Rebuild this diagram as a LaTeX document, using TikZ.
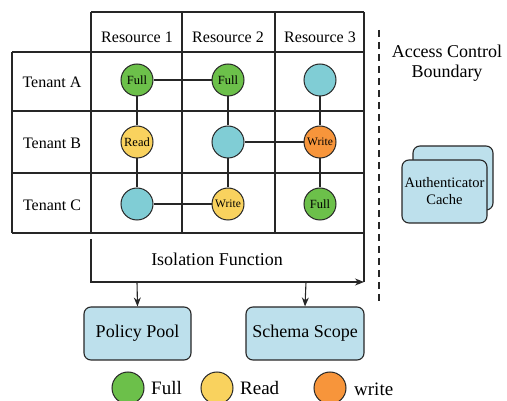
\documentclass[tikz,border=0pt]{standalone}
\usepackage{fontspec}
\setmainfont{Liberation Serif}
\usetikzlibrary{arrows.meta}
\definecolor{cfull}{HTML}{6CC04A}
\definecolor{cread}{HTML}{F9D25E}
\definecolor{cwrite}{HTML}{F7953B}
\definecolor{ccyan}{HTML}{80CDD5}
\definecolor{cbox}{HTML}{BDE0EC}
\tikzset{
  grid/.style={line width=1.2pt, black!85},
  dot/.style={circle, draw=black!85, line width=1pt, minimum size=32pt, inner sep=0pt, font=\fontsize{12.5}{13}\selectfont},
  link/.style={line width=1.1pt, black!85},
  bluebox/.style={draw=black!85, line width=1.1pt, fill=cbox, rounded corners=7pt, inner sep=0pt, font=\fontsize{18}{20}\selectfont},
  hdr/.style={font=\fontsize{16}{18}\selectfont, inner sep=0pt},
  legtext/.style={font=\fontsize{19}{21}\selectfont, anchor=west, inner sep=0pt},
  arr/.style={line width=1.1pt, black!85, -{Stealth[length=9pt,width=7pt]}}
}
\begin{document}
\begin{tikzpicture}[x=1pt,y=-1pt]
\useasboundingbox (0,0) rectangle (507,401);
% table grid
\draw[grid] (91,12) -- (364,12);
\draw[grid] (12,52) -- (364,52);
\draw[grid] (12,111) -- (364,111);
\draw[grid] (12,173) -- (364,173);
\draw[grid] (12,233) -- (364,233);
\draw[grid] (12,52) -- (12,233);
\draw[grid] (91,12) -- (91,233);
\draw[grid] (182,12) -- (182,233);
\draw[grid] (275,12) -- (275,233);
\draw[grid] (364,12) -- (364,282);
% headers
\node[hdr] (h1) at (137,37) {Resource 1};
\node[hdr] (h2) at (228,37) {Resource 2};
\node[hdr] (h3) at (320,37) {Resource 3};
\node[hdr] (ta) at (52,82) {Tenant A};
\node[hdr] (tb) at (52,143) {Tenant B};
\node[hdr] (tc) at (52,205) {Tenant C};
% circles
\node[dot, fill=cfull] (a1) at (137,80) {Full};
\node[dot, fill=cfull] (a2) at (228,80) {Full};
\node[dot, fill=ccyan] (a3) at (320,80) {};
\node[dot, fill=cread] (b1) at (137,142) {Read};
\node[dot, fill=ccyan] (b2) at (228,142) {};
\node[dot, fill=cwrite, font=\fontsize{11.5}{12}\selectfont] (b3) at (320,142) {Write};
\node[dot, fill=ccyan] (c1) at (137,204) {};
\node[dot, fill=cread, font=\fontsize{11.5}{12}\selectfont] (c2) at (228,204) {Write};
\node[dot, fill=cfull] (c3) at (320,204) {Full};
\draw[link] (a1) -- (a2);
\draw[link] (a1) -- (b1);
\draw[link] (b1) -- (c1);
\draw[link] (a2) -- (b2);
\draw[link] (b2) -- (c2);
\draw[link] (b2) -- (b3);
\draw[link] (c1) -- (c2);
\draw[link] (a3) -- (b3);
\draw[link] (b3) -- (c3);
% isolation function
\coordinate (isoStart) at (91,239);
\coordinate (isoCorner) at (91,282);
\coordinate (isoEnd) at (364,282);
\coordinate (dropA) at (137,282);
\coordinate (dropB) at (306,282);
\draw[arr] (isoStart) -- (isoCorner) -- (isoEnd);
\node[font=\fontsize{18}{20}\selectfont, inner sep=0pt] (iso) at (217,259) {Isolation Function};
\node[bluebox, minimum width=107pt, minimum height=53pt] (pp) at (137.5,333.5) {Policy Pool};
\node[bluebox, minimum width=118pt, minimum height=53pt] (ss) at (305,333.5) {Schema Scope};
\draw[arr] (dropA) -- (pp.north);
\draw[arr] (dropB) -- (ss.north);
% boundary
\coordinate (dashTop) at (379,30);
\coordinate (dashBot) at (379,302);
\draw[line width=1.2pt, black!85, dash pattern=on 7pt off 5pt] (dashTop) -- (dashBot);
\node[font=\fontsize{18}{20}\selectfont, align=center, inner sep=0pt] (acb) at (447,63) {Access Control\\Boundary};
% authenticator cache
\node[bluebox, minimum width=80pt, minimum height=64pt] (acback) at (453,178) {};
\node[bluebox, minimum width=85pt, minimum height=63pt, align=center, font=\fontsize{14.5}{17}\selectfont] (ac) at (444.5,191.5) {Authenticator\\Cache};
% legend
\node[dot, fill=cfull] (lf) at (128,388) {};
\node[legtext] (lft) at (151,388) {Full};
\node[dot, fill=cread] (lr) at (217,388) {};
\node[legtext] (lrt) at (240,388) {Read};
\node[dot, fill=cwrite] (lw) at (330,388) {};
\node[legtext] (lwt) at (354,389) {write};
\end{tikzpicture}
\end{document}
